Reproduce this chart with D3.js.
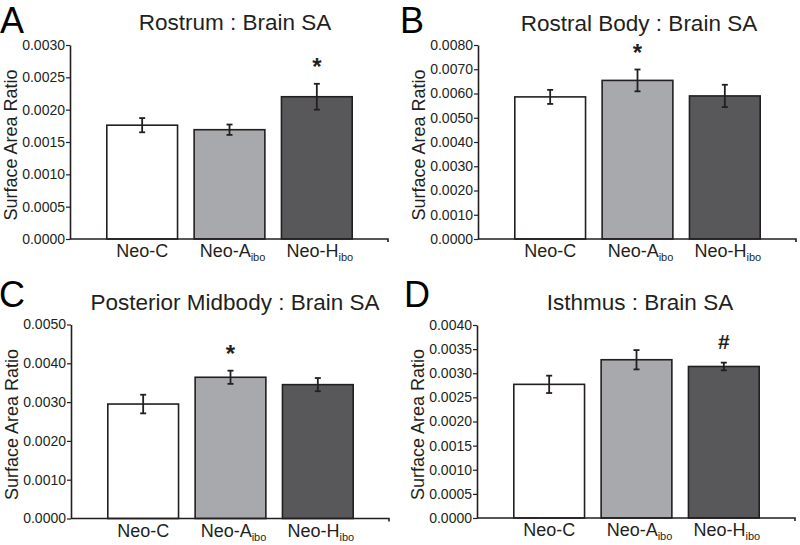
<!DOCTYPE html>
<html><head><meta charset="utf-8">
<script src="https://cdn.jsdelivr.net/npm/d3@7"></script>
<style>
html,body{margin:0;padding:0;background:#fff;}
svg{display:block;font-family:"Liberation Sans", Arial, sans-serif;}
</style></head>
<body>
<svg id="chart" width="800" height="545"></svg>
<script>
// ---- data ----
const categories = ["Neo-C", "Neo-A", "Neo-H"];
const subscripts = ["", "ibo", "ibo"];
const barColors = ["#ffffff", "#a7a9ac", "#58585b"];

const panelLetters = ["A", "B", "C", "D"];
const panelTitles = ["Rostrum : Brain SA", "Rostral Body : Brain SA", "Posterior Midbody : Brain SA", "Isthmus : Brain SA"];

const rostrumMeans = [0.00176, 0.00169, 0.00220];
const rostrumErrs  = [0.00011, 0.00008, 0.00020];
const rostralBodyMeans = [0.00586, 0.00654, 0.00590];
const rostralBodyErrs  = [0.00029, 0.00045, 0.00046];
const postMidbodyMeans = [0.00295, 0.00364, 0.00345];
const postMidbodyErrs  = [0.00024, 0.00017, 0.00017];
const isthmusMeans = [0.00277, 0.00328, 0.00314];
const isthmusErrs  = [0.00018, 0.00020, 0.00008];

const yMaxes = [0.0030, 0.0080, 0.0050, 0.0040];
const yTickSteps = [0.0005, 0.0010, 0.0010, 0.0005];
const marks = [["", "", "*"], ["", "*", ""], ["", "*", ""], ["", "", "#"]];

const yLabel = "Surface Area Ratio";

// ---- layout ----
const panels = [
  {means: rostrumMeans, errs: rostrumErrs, ax: 70, top: 45, bottom: 239, lx: 0, ly: 32.6, tx: 235, ty: 30},
  {means: rostralBodyMeans, errs: rostralBodyErrs, ax: 478, top: 45, bottom: 239, lx: 400, ly: 32.6, tx: 639, ty: 31},
  {means: postMidbodyMeans, errs: postMidbodyErrs, ax: 71, top: 324.5, bottom: 518.5, lx: -1, ly: 307, tx: 235, ty: 310},
  {means: isthmusMeans, errs: isthmusErrs, ax: 477, top: 325, bottom: 518, lx: 404, ly: 307, tx: 640, ty: 310}
];

const ink = "#231f20";
const svg = d3.select("#chart");

panels.forEach((p, i) => {
  const g = svg.append("g");
  const axisEnd = p.ax + 318;
  const x = d3.scaleBand().domain(categories).range([p.ax + 1, axisEnd])
    .paddingInner(0.19).paddingOuter(0.41);
  const y = d3.scaleLinear().domain([0, yMaxes[i]]).range([p.bottom, p.top]);
  const ticks = d3.range(0, yMaxes[i] + yTickSteps[i] / 2, yTickSteps[i]);

  // panel letter
  g.append("text").attr("x", p.lx).attr("y", p.ly)
    .attr("font-size", 36).attr("fill", "#000").text(panelLetters[i]);
  // title
  g.append("text").attr("x", p.tx).attr("y", p.ty).attr("text-anchor", "middle")
    .attr("font-size", 22.5).attr("fill", ink).text(panelTitles[i]);

  // bars
  g.selectAll("rect.bar").data(categories).enter().append("rect")
    .attr("x", d => x(d)).attr("width", x.bandwidth())
    .attr("y", (d, k) => y(p.means[k]))
    .attr("height", (d, k) => y(0) - y(p.means[k]))
    .attr("fill", (d, k) => barColors[k])
    .attr("stroke", ink).attr("stroke-width", 1.6);

  // error bars
  const cap = 3;
  categories.forEach((c, k) => {
    const cx = x(c) + x.bandwidth() / 2;
    const y1 = y(p.means[k] + p.errs[k]), y2 = y(p.means[k] - p.errs[k]);
    g.append("line").attr("x1", cx).attr("x2", cx).attr("y1", y1).attr("y2", y2)
      .attr("stroke", ink).attr("stroke-width", 1.8);
    [y1, y2].forEach(yy => g.append("line").attr("x1", cx - cap).attr("x2", cx + cap)
      .attr("y1", yy).attr("y2", yy).attr("stroke", ink).attr("stroke-width", 1.8));
    if (marks[i][k]) {
      const isStar = marks[i][k] === "*";
      g.append("text").attr("x", cx).attr("y", y1 - 21 + (isStar ? 12.5 : 7.5))
        .attr("text-anchor", "middle").attr("font-size", isStar ? 24 : 21)
        .attr("font-weight", "bold")
        .attr("fill", ink).text(marks[i][k]);
    }
  });

  // y axis
  const yAxis = d3.axisLeft(y).tickValues(ticks).tickFormat(d3.format(".4f"))
    .tickSize(4).tickSizeOuter(0).tickPadding(1);
  const ya = g.append("g").attr("transform", `translate(${p.ax},0)`).call(yAxis);
  ya.select(".domain").attr("stroke", ink).attr("stroke-width", 1.6);
  ya.selectAll(".tick line").attr("stroke", ink).attr("stroke-width", 1.2);
  ya.selectAll(".tick text").attr("font-size", 14).attr("fill", ink)
    .attr("font-family", "Liberation Sans, Arial, sans-serif");

  // x axis
  const xAxis = d3.axisBottom(d3.scaleLinear().domain([0, 1]).range([p.ax, axisEnd]))
    .tickValues([]).tickSizeOuter(3);
  const xa = g.append("g").attr("transform", `translate(0,${p.bottom})`).call(xAxis);
  xa.select(".domain").attr("stroke", ink).attr("stroke-width", 1.6)
    .attr("d", `M${p.ax},0H${axisEnd}V3`);

  // x labels
  categories.forEach((c, k) => {
    const t = g.append("text").attr("x", x(c) + x.bandwidth() / 2 + (subscripts[k] ? 3 : 0))
      .attr("y", p.bottom + 18).attr("text-anchor", "middle")
      .attr("font-size", 18).attr("fill", ink).attr("opacity", 0.999);
    t.append("tspan").attr("fill", ink).text(c);
    if (subscripts[k]) {
      t.append("tspan").attr("font-size", 11).attr("dy", 4).attr("fill", ink).text(subscripts[k]);
    }
  });

  // y label
  g.append("text")
    .attr("transform", `translate(${p.ax - 53},${(p.top + p.bottom) / 2 + 3}) rotate(-90)`)
    .attr("text-anchor", "middle").attr("font-size", 18).attr("fill", ink).text(yLabel);
});
</script>
</body></html>
